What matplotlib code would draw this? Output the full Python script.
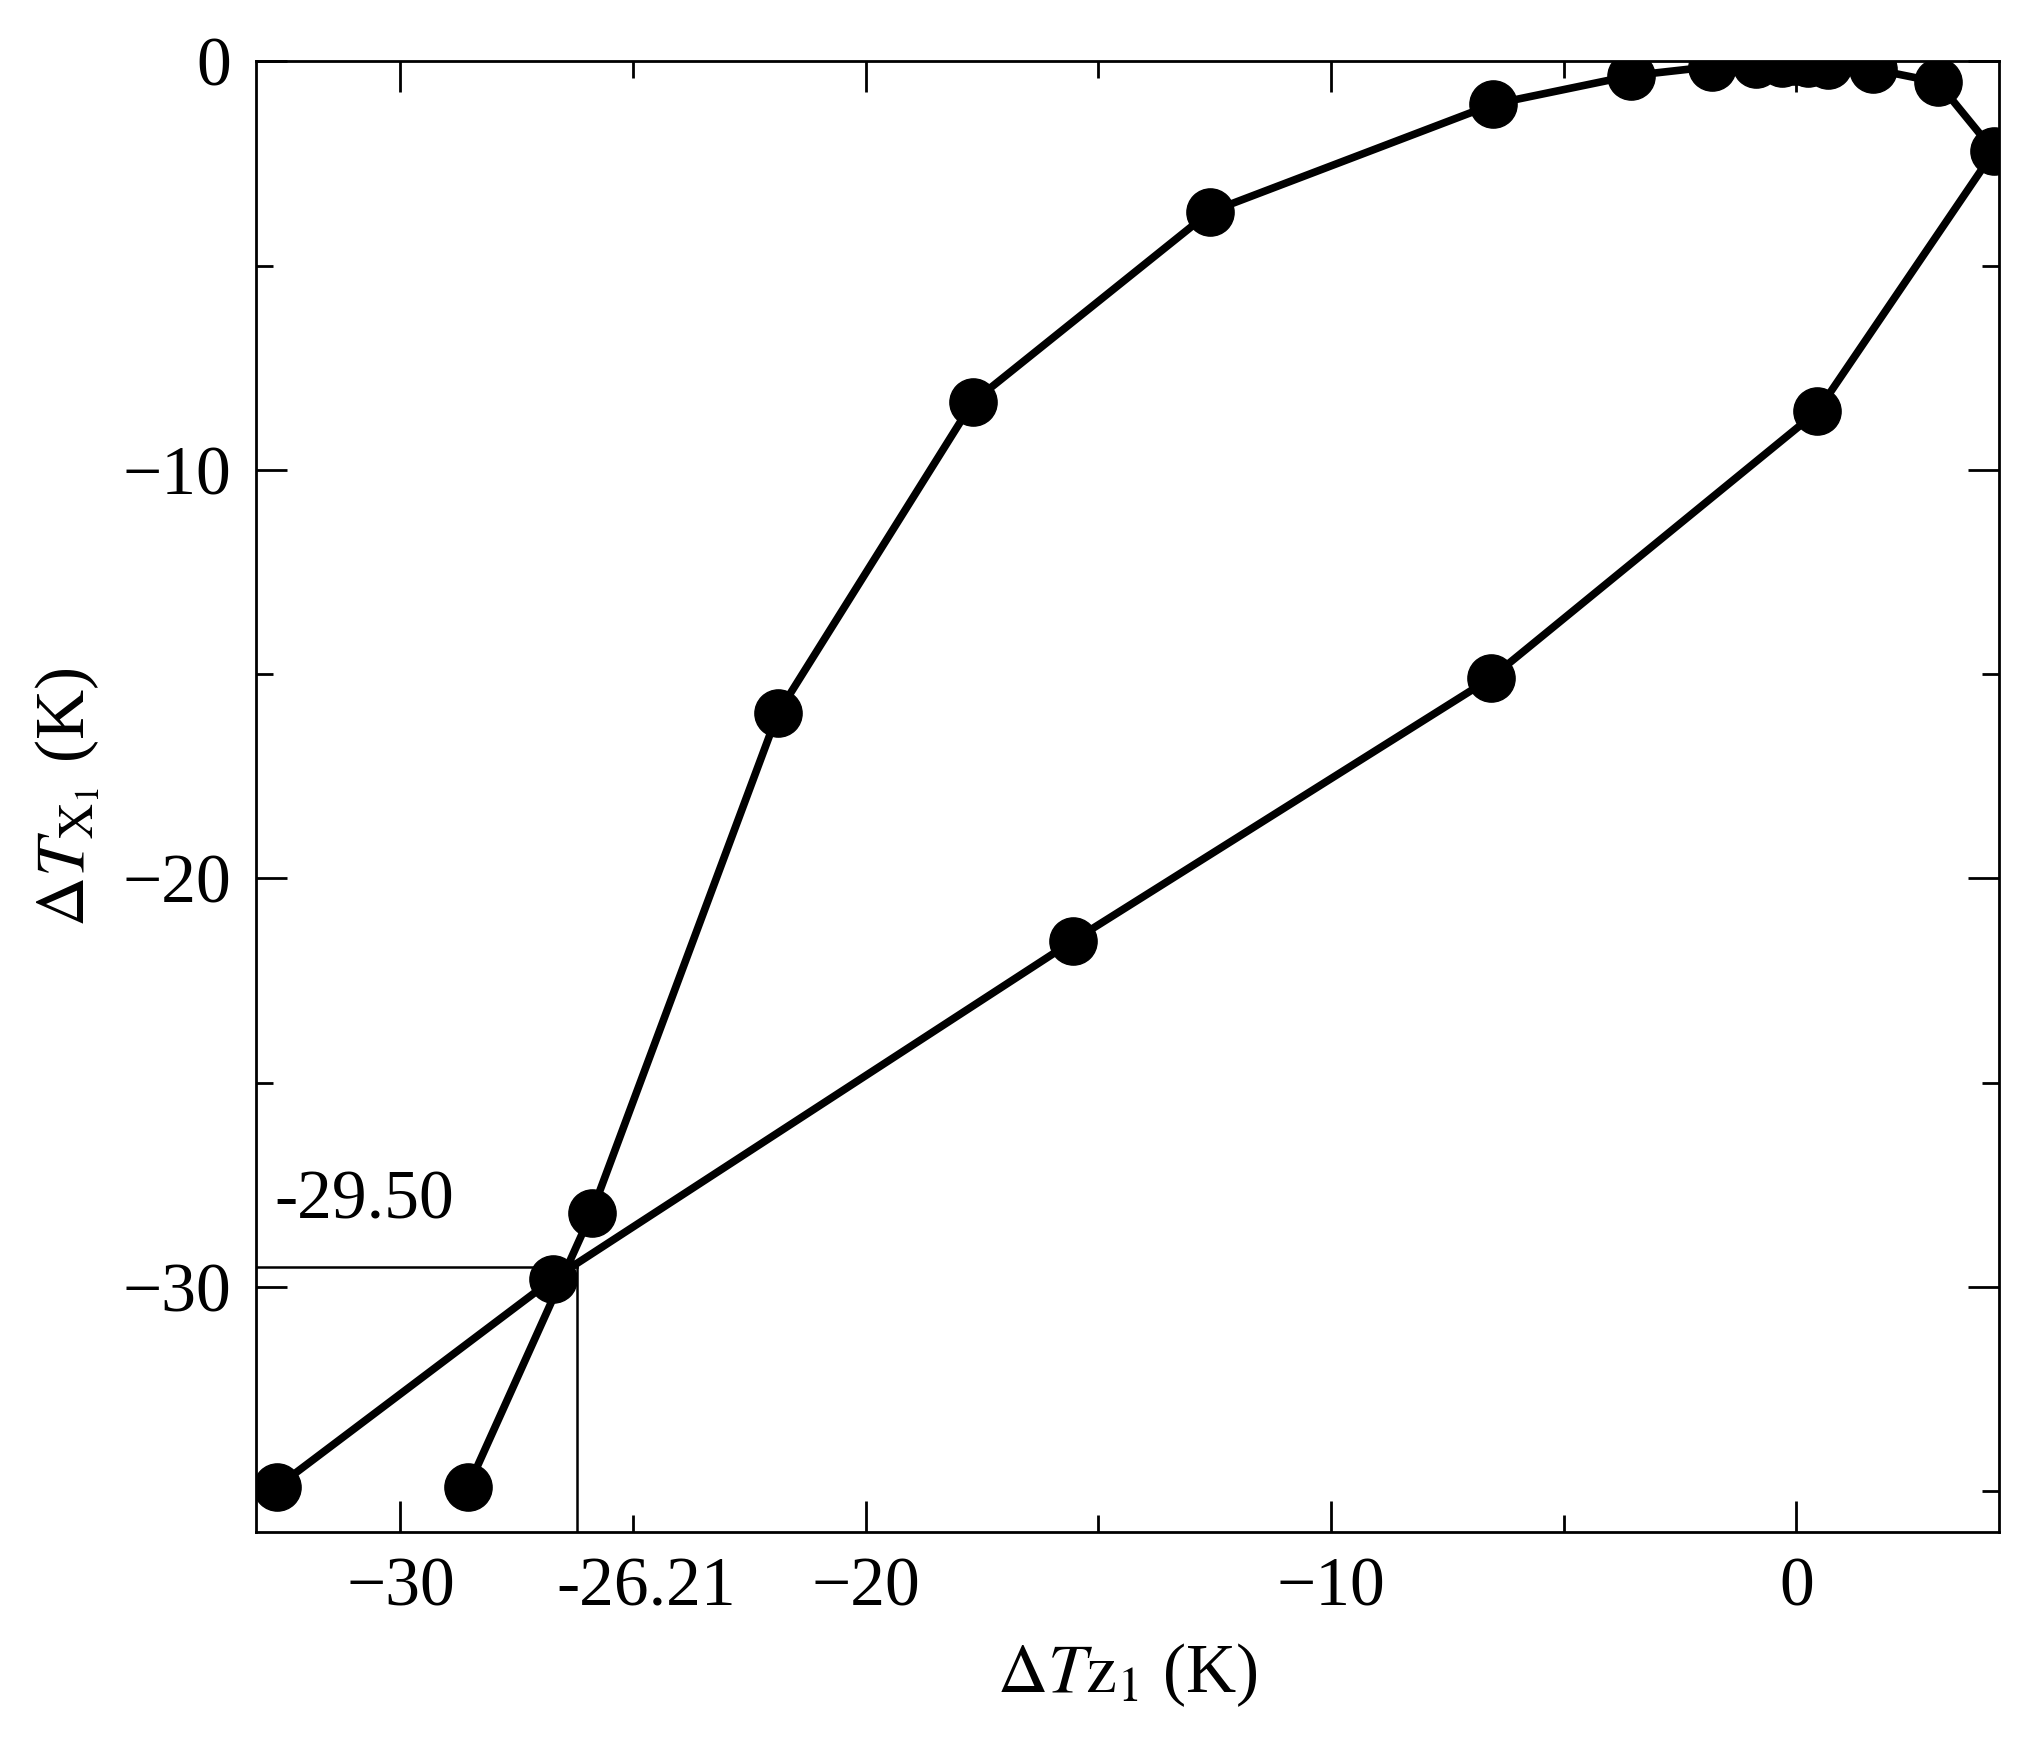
import matplotlib
matplotlib.use("Agg")
import matplotlib.pyplot as plt
from matplotlib.ticker import MultipleLocator

dTz = [-32.66, -26.73, -15.55, -6.57, 0.45, 4.25, 3.04, 1.65, 0.67, 0.25, -0.03,
       -0.31, -0.87, -1.82, -3.55, -6.52, -12.61, -17.70, -21.89, -25.89, -28.55]
dTx = [-34.9, -29.81, -21.53, -15.10, -8.57, -2.20, -0.51, -0.19, -0.10, -0.03, 0.0,
       -0.03, -0.06, -0.13, -0.35, -1.05, -3.69, -8.34, -15.96, -28.18, -34.9]
cross_x, cross_y = -26.21, -29.50

plt.rcParams['font.family'] = ['Liberation Serif', 'DejaVu Serif']
plt.rcParams['mathtext.fontset'] = 'stix'

fig = plt.figure(figsize=(20.4, 17.53), dpi=100)
ax = fig.add_axes([0.1256, 0.126, 0.8544, 0.839])
ax.plot(dTz, dTx, '-o', color='black', lw=5.5, ms=34, zorder=3)
ax.set_xlim(-33.1, 4.36)
ax.set_ylim(-36, 0)
ax.plot([-33.1, cross_x], [cross_y, cross_y], color='black', lw=1.8, zorder=2)
ax.plot([cross_x, cross_x], [-36, cross_y], color='black', lw=1.8, zorder=2)
ax.text(-32.7, -28.7, '-29.50', fontsize=50, ha='left', va='bottom')
ax.text(cross_x + 1.5, -36.6, '-26.21', fontsize=50, ha='center', va='top')

ax.xaxis.set_major_locator(MultipleLocator(10))
ax.xaxis.set_minor_locator(MultipleLocator(5))
ax.yaxis.set_major_locator(MultipleLocator(10))
ax.yaxis.set_minor_locator(MultipleLocator(5))
ax.tick_params(which='both', direction='in', top=True, right=True, width=2, labelsize=50, pad=18)
ax.tick_params(which='major', length=22)
ax.tick_params(which='minor', length=12)
for s in ax.spines.values():
    s.set_linewidth(2)
ax.set_xlabel(r'$\Delta T\mathrm{z}_1$ (K)', fontsize=50, labelpad=15)
ax.set_ylabel(r'$\Delta T_{\mathrm{X}_1}$ (K)', fontsize=50, labelpad=15)
fig.savefig('out.png', dpi=100)
